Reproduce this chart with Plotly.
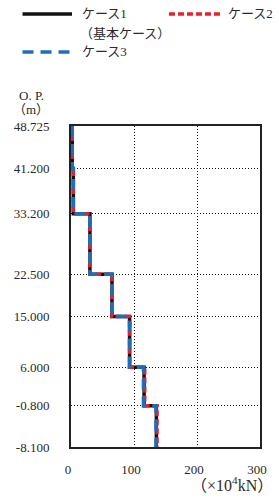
import plotly.graph_objects as go

# ---- data ----
levels = [48.725, 41.2, 33.2, 22.5, 15.0, 6.0, -0.8, -8.1]   # O.P. (m)
case1 = [2.0, 3.7, 30.0, 65.0, 93.0, 116.0, 135.5]          # x10^4 kN per segment
case2 = [2.0, 3.7, 30.0, 65.0, 93.0, 117.0, 136.5]
case3 = [2.0, 3.7, 30.0, 65.0, 93.0, 115.0, 135.0]
tick_labels = ["48.725", "41.200", "33.200", "22.500", "15.000", "6.000", "-0.800", "-8.100"]
x_ticks = [0, 100, 200, 300]
names = ["ケース1", "ケース2", "ケース3"]
sub_name = "（基本ケース）"

W, H = 279, 502
L, R, T, B = 71, 17, 126, 55
PW, PH = W - L - R, H - T - B
FONT = "Liberation Serif, Noto Sans CJK JP, serif"
TXT = "#2a2a2a"


def steps(vals):
    xs, ys = [], []
    for i, v in enumerate(vals):
        xs += [v, v]
        ys += [levels[i], levels[i + 1]]
    return xs, ys


def px(x):
    # page pixel -> paper fraction
    return (x - L) / PW


def py(y):
    return (H - B - y) / PH


styles = [
    dict(color="#111111", width=3.5, dash="solid"),
    dict(color="#e8202a", width=3.5, dash="6px,3px"),
    dict(color="#1f6fb8", width=3.5, dash="11px,7px"),
]

fig = go.Figure()
for vals, name, st in zip([case1, case2, case3], names, styles):
    xs, ys = steps(vals)
    fig.add_trace(go.Scatter(x=xs, y=ys, mode="lines", name=name,
                             line=st, showlegend=False))

# manual legend
legend_items = [
    (22, 72, 14, 80, styles[0], names[0]),
    (170, 222, 14, 228, styles[1], names[1]),
    (22, 72, 52, 80, styles[2], names[2]),
]
for x0, x1, y, tx, st, name in legend_items:
    fig.add_shape(type="line", xref="paper", yref="paper",
                  x0=px(x0), x1=px(x1), y0=py(y), y1=py(y),
                  line=dict(color=st["color"], width=3.5, dash=st["dash"]))
    fig.add_annotation(xref="paper", yref="paper", x=px(tx), y=py(y),
                       text=name, showarrow=False, xanchor="left", yanchor="middle",
                       font=dict(size=13, color=TXT, family=FONT))
fig.add_annotation(xref="paper", yref="paper", x=px(78), y=py(33),
                   text=sub_name, showarrow=False, xanchor="left", yanchor="middle",
                   font=dict(size=13, color=TXT, family=FONT))

# axis titles
fig.add_annotation(xref="paper", yref="paper", x=px(31), y=py(95),
                   text="O. P.", showarrow=False, xanchor="center", yanchor="middle",
                   font=dict(size=13, color=TXT, family=FONT))
fig.add_annotation(xref="paper", yref="paper", x=px(31), y=py(109),
                   text="（m）", showarrow=False, xanchor="center", yanchor="middle",
                   font=dict(size=13, color=TXT, family=FONT))
fig.add_annotation(xref="paper", yref="paper", x=px(234), y=py(484),
                   text="（×10<sup>4</sup>kN）", showarrow=False, xanchor="center", yanchor="middle",
                   font=dict(size=16, color=TXT, family=FONT))

fig.update_xaxes(range=[0, 300], tickvals=x_ticks, ticktext=[str(v) for v in x_ticks],
                 showgrid=True, gridcolor="#111", griddash="1px,2px", gridwidth=1,
                 showline=True, linecolor="#222", linewidth=2, mirror=True,
                 zeroline=False, ticks="", ticklabelstandoff=9, ticklabelshift=-3,
                 tickfont=dict(size=13, color=TXT, family=FONT), fixedrange=True)
fig.update_yaxes(range=[-8.1, 48.725], tickvals=levels, ticktext=tick_labels,
                 showgrid=True, gridcolor="#111", griddash="1px,2px", gridwidth=1,
                 showline=True, linecolor="#222", linewidth=2, mirror=True,
                 zeroline=False, ticks="", ticklabelstandoff=17,
                 tickfont=dict(size=13, color=TXT, family=FONT), fixedrange=True)

fig.update_layout(width=W, height=H, margin=dict(l=L, r=R, t=T, b=B),
                  paper_bgcolor="white", plot_bgcolor="white", showlegend=False,
                  font=dict(family=FONT, color=TXT))

fig.write_html("out.html", config={"displayModeBar": False},
               post_script="document.body.style.margin='0';document.body.style.overflow='hidden';")
